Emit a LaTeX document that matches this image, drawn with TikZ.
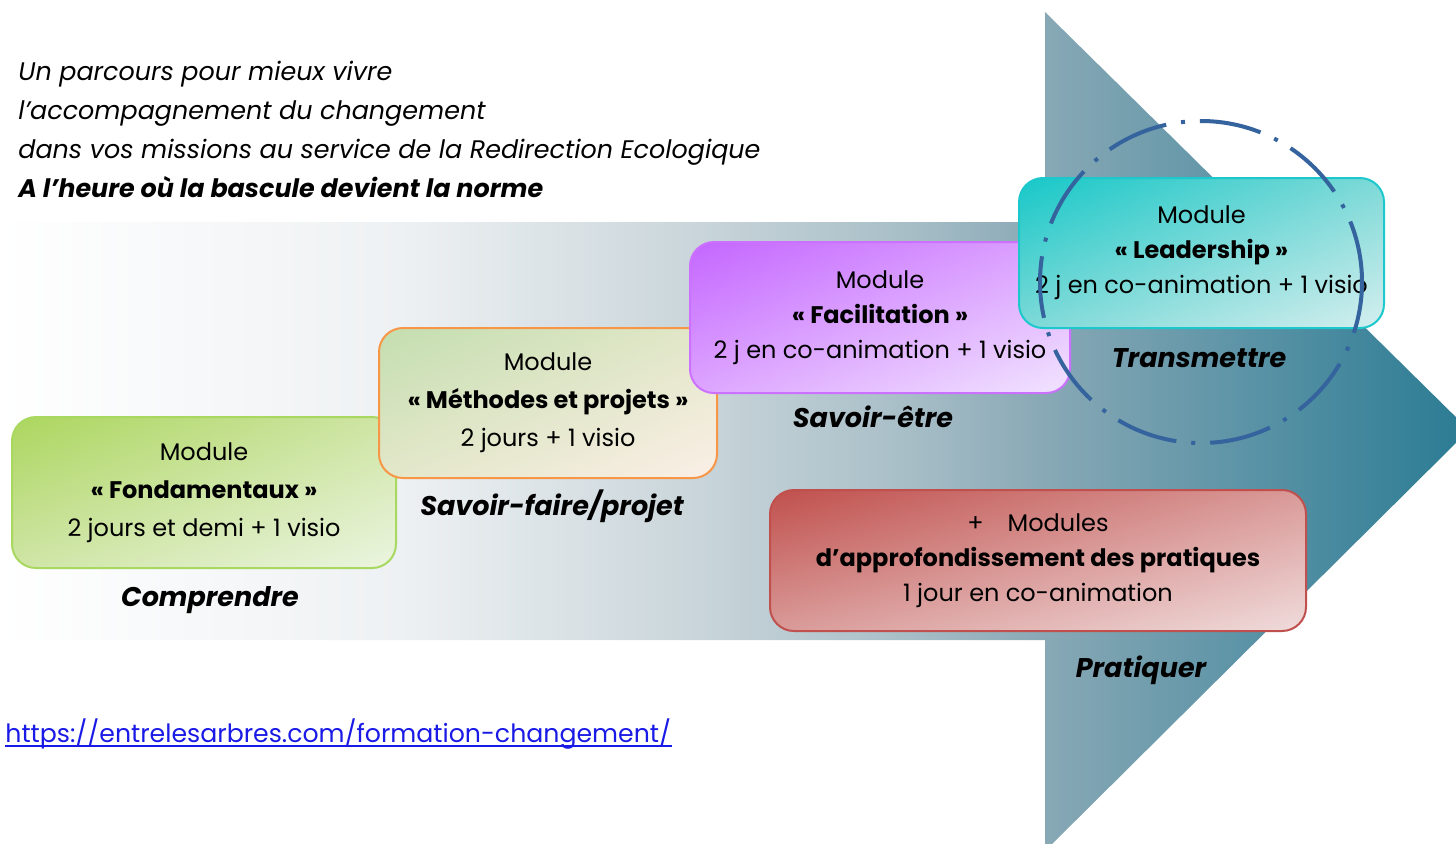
\documentclass[tikz,border=0pt]{standalone}
\usepackage{fontspec}
\setmainfont{Poppins}
\usetikzlibrary{positioning,shadings}

\definecolor{fondA}{HTML}{ACD65E}
\definecolor{fondB}{HTML}{CFE5A6}
\definecolor{fondC}{HTML}{EBF5E0}
\definecolor{fondline}{HTML}{A8D860}
\definecolor{methA}{HTML}{C3DEAF}
\definecolor{methB}{HTML}{E3E7C9}
\definecolor{methC}{HTML}{FBEFE7}
\definecolor{methline}{HTML}{F79646}
\definecolor{faciA}{HTML}{C466FF}
\definecolor{faciB}{HTML}{DDA5FF}
\definecolor{faciC}{HTML}{F1E4FF}
\definecolor{faciline}{HTML}{CC70FF}
\definecolor{leadA}{HTML}{17C8C8}
\definecolor{leadB}{HTML}{7DD9D7}
\definecolor{leadC}{HTML}{D5EFEF}
\definecolor{leadline}{HTML}{1CC8CC}
\definecolor{praA}{HTML}{C0504D}
\definecolor{praB}{HTML}{D99A98}
\definecolor{praC}{HTML}{F0DCDC}
\definecolor{praline}{HTML}{C0504D}
\definecolor{ringblue}{HTML}{35639E}
\definecolor{urlblue}{HTML}{1A1AE6}
\definecolor{arrA}{HTML}{EEF1F3}
\definecolor{arrB}{HTML}{C9D5DA}
\definecolor{arrC}{HTML}{A9BFC8}
\definecolor{arrD}{HTML}{88A8B5}
\definecolor{arrE}{HTML}{5B93A6}
\definecolor{arrF}{HTML}{2A7B93}

\pgfdeclarehorizontalshading{arrowshade}{100bp}{color(0bp)=(white); color(25bp)=(white);
  color(38.6bp)=(arrA); color(48.8bp)=(arrB); color(55.6bp)=(arrC); color(60.6bp)=(arrD);
  color(67.5bp)=(arrE); color(75bp)=(arrF); color(100bp)=(arrF)}

\tikzset{
  modbox/.style={draw, rounded corners=12pt, line width=1pt, align=center, inner sep=0pt,
    font=\fontsize{12}{19}\selectfont},
  stage/.style={anchor=base, font=\fontsize{13.5}{16}\selectfont\bfseries\itshape},
  intro/.style={anchor=base west, inner sep=0pt, font=\fontsize{12.7}{14}\selectfont\itshape}
}

\begin{document}
\begin{tikzpicture}[x=0.5pt,y=-0.5pt]
\useasboundingbox (0,0) rectangle (1456,843);
\begin{scope}
\clip (0,0) rectangle (1456,843);
\shade[shading=arrowshade] (0,222) -- (1045,222) -- (1045,12) -- (1469,430) -- (1045,851) -- (1045,640) -- (0,640) -- cycle;
\end{scope}

\node[intro] (l1) at (18,80) {Un parcours pour mieux vivre};
\node[intro] (l2) at (18,119) {l’accompagnement du changement};
\node[intro] (l3) at (18,158) {dans vos missions au service de la Redirection Ecologique};
\node[intro,font=\fontsize{12.7}{14}\selectfont\bfseries\itshape] (l4) at (18,197) {A l’heure où la bascule devient la norme};

\node[modbox, draw=fondline, upper left=fondA, upper right=fondB, lower left=fondB, lower right=fondC,
  minimum width=192pt, minimum height=75.5pt] (fond) at (204,492.5)
  {Module\\\textbf{«~Fondamentaux~»}\\2 jours et demi + 1 visio};
\node[modbox, draw=methline, upper left=methA, upper right=methB, lower left=methB, lower right=methC,
  minimum width=169pt, minimum height=75pt] (meth) at (548,403)
  {Module\\\textbf{«~Méthodes et projets~»}\\2 jours + 1 visio};
\node[modbox, draw=faciline, upper left=faciA, upper right=faciB, lower left=faciB, lower right=faciC,
  minimum width=190pt, minimum height=75.5pt, font=\fontsize{12}{17.5}\selectfont] (faci) at (880,317.5)
  {Module\\\textbf{«~Facilitation~»}\\2 j en co-animation + 1 visio};
\node[modbox, draw=leadline, upper left=leadA, upper right=leadB, lower left=leadB, lower right=leadC,
  minimum width=182.5pt, minimum height=75pt, font=\fontsize{12}{17.5}\selectfont] (lead) at (1201.5,253)
  {Module\\\textbf{«~Leadership~»}\\2 j en co-animation + 1 visio};
\node[modbox, draw=praline, upper left=praA, upper right=praB, lower left=praB, lower right=praC,
  minimum width=268pt, minimum height=70.5pt, font=\fontsize{12}{17.5}\selectfont] (prat) at (1038,560.5)
  {+\quad Modules\\\textbf{d’approfondissement des pratiques}\\1 jour en co-animation};

\node[stage] (comp) at (210,606) {Comprendre};
\node[stage] (faire) at (552,515) {Savoir-faire/projet};
\node[stage] (etre) at (873,427) {Savoir-être};
\node[stage] (trans) at (1199,367) {Transmettre};
\node[stage] (prati) at (1141,677) {Pratiquer};

\node[circle, draw=ringblue, line width=2pt, dash pattern=on 31pt off 7.5pt on 2pt off 7.5pt,
  minimum size=161pt, inner sep=0pt] (ring) at (1201,282) {};

\node[anchor=base west, text=urlblue, font=\fontsize{12.6}{14}\selectfont, inner sep=0pt] (url) at (5,742)
  {https://entrelesarbres.com/formation-changement/};
\draw[urlblue, line width=0.7pt] ([yshift=-2pt]url.base west) -- ([yshift=-2pt]url.base east);
\end{tikzpicture}
\end{document}
